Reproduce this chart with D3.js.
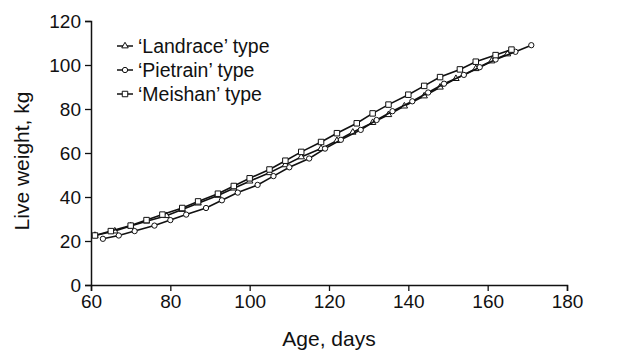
<!DOCTYPE html>
<html>
<head>
<meta charset="utf-8">
<script src="https://cdn.jsdelivr.net/npm/d3@7"></script>
<style>
  body { margin: 0; background: #fff; }
  text { font-family: "Liberation Sans", Arial, sans-serif; fill: #111; }
</style>
</head>
<body>
<div id="chart"></div>
<script>
// growth curves
const landraceDays = [61, 66, 70, 74, 79, 83, 87, 92, 96, 100, 105, 109, 113, 118, 122, 126, 131, 135, 139, 144, 148, 152, 157, 161, 165];
const landraceKg   = [22.5, 24.5, 26.8, 29, 31.5, 34.3, 37.2, 40.7, 44, 47.2, 51, 54.6, 58.2, 62, 65.6, 69.4, 73.8, 77.4, 81.3, 85.9, 89.9, 93.8, 98.3, 101.8, 105];

const pietrainDays = [63, 67, 71, 76, 80, 84, 89, 93, 97, 102, 106, 110, 115, 119, 123, 128, 132, 136, 141, 145, 149, 154, 158, 162, 167, 171];
const pietrainKg   = [21, 22.5, 24.5, 27, 29.5, 32, 35, 38.5, 42, 45.5, 49.5, 53.5, 57.5, 62, 66, 70.5, 75, 79, 83.5, 87.5, 91.5, 95.5, 99, 102.5, 106, 109];

const meishanDays = [61, 65, 70, 74, 78, 83, 87, 92, 96, 100, 105, 109, 113, 118, 122, 127, 131, 135, 140, 144, 148, 153, 157, 162, 166];
const meishanKg   = [22.5, 24.5, 27, 29.5, 32, 35, 38, 41.5, 45, 48.5, 52.5, 56.5, 60.5, 65, 69, 73.5, 78, 82, 86.5, 90.5, 94.5, 98, 101.5, 104.5, 107];

const xTicks = [60, 80, 100, 120, 140, 160, 180];
const yTicks = [0, 20, 40, 60, 80, 100, 120];

const series = [
  { name: "\u2018Landrace\u2019 type", days: landraceDays, kg: landraceKg, marker: "triangle" },
  { name: "\u2018Pietrain\u2019 type", days: pietrainDays, kg: pietrainKg, marker: "circle" },
  { name: "\u2018Meishan\u2019 type", days: meishanDays, kg: meishanKg, marker: "square" }
];

const width = 623, height = 352;
const margin = { top: 21, right: 56, bottom: 67, left: 91 };

const svg = d3.select("#chart").append("svg")
  .attr("width", width)
  .attr("height", height);

const x = d3.scaleLinear().domain([60, 180]).range([margin.left, width - margin.right]);
const y = d3.scaleLinear().domain([0, 120]).range([height - margin.bottom, margin.top]);

// axes
const xAxis = svg.append("g")
  .attr("transform", `translate(0,${height - margin.bottom})`)
  .call(d3.axisBottom(x).tickValues(xTicks).tickSize(6).tickPadding(4));
const yAxis = svg.append("g")
  .attr("transform", `translate(${margin.left},0)`)
  .call(d3.axisLeft(y).tickValues(yTicks).tickSize(6).tickPadding(4));

[xAxis, yAxis].forEach(g => {
  g.select(".domain").attr("stroke", "#111").attr("stroke-width", 1.5);
  g.selectAll(".tick line").attr("stroke", "#111").attr("stroke-width", 1.3);
  g.selectAll(".tick text").style("font-size", "19px").attr("fill", "#111");
});

svg.append("text")
  .attr("x", (x(60) + x(180)) / 2)
  .attr("y", 346)
  .attr("text-anchor", "middle")
  .style("font-size", "21px")
  .text("Age, days");

svg.append("text")
  .attr("transform", `translate(29,${(y(0) + y(120)) / 2 + 8}) rotate(-90)`)
  .attr("text-anchor", "middle")
  .style("font-size", "21px")
  .text("Live weight, kg");

const symbolFor = {
  triangle: d3.symbol().type(d3.symbolTriangle).size(18),
  circle: d3.symbol().type(d3.symbolCircle).size(22),
  square: d3.symbol().type(d3.symbolSquare).size(30)
};

const line = d3.line().x(d => x(d[0])).y(d => y(d[1]));

series.forEach(s => {
  const pts = d3.zip(s.days, s.kg);
  svg.append("path")
    .datum(pts)
    .attr("fill", "none")
    .attr("stroke", "#111")
    .attr("stroke-width", 1.6)
    .attr("d", line);

  svg.selectAll(null)
    .data(pts)
    .enter()
    .append("path")
    .attr("d", symbolFor[s.marker])
    .attr("transform", d => `translate(${x(d[0])},${y(d[1])})`)
    .attr("fill", "#fff")
    .attr("stroke", "#111")
    .attr("stroke-width", 1);
});

// legend
const legend = svg.append("g");
series.forEach((s, i) => {
  const ly = 46 + i * 24;
  legend.append("line")
    .attr("x1", 117).attr("x2", 133)
    .attr("y1", ly).attr("y2", ly)
    .attr("stroke", "#111").attr("stroke-width", 1.5);
  legend.append("path")
    .attr("d", symbolFor[s.marker])
    .attr("transform", `translate(125,${ly})`)
    .attr("fill", "#fff").attr("stroke", "#111").attr("stroke-width", 1);
  legend.append("text")
    .attr("x", 138).attr("y", ly + 7)
    .style("font-size", "19.5px")
    .text(s.name);
});
</script>
</body>
</html>
